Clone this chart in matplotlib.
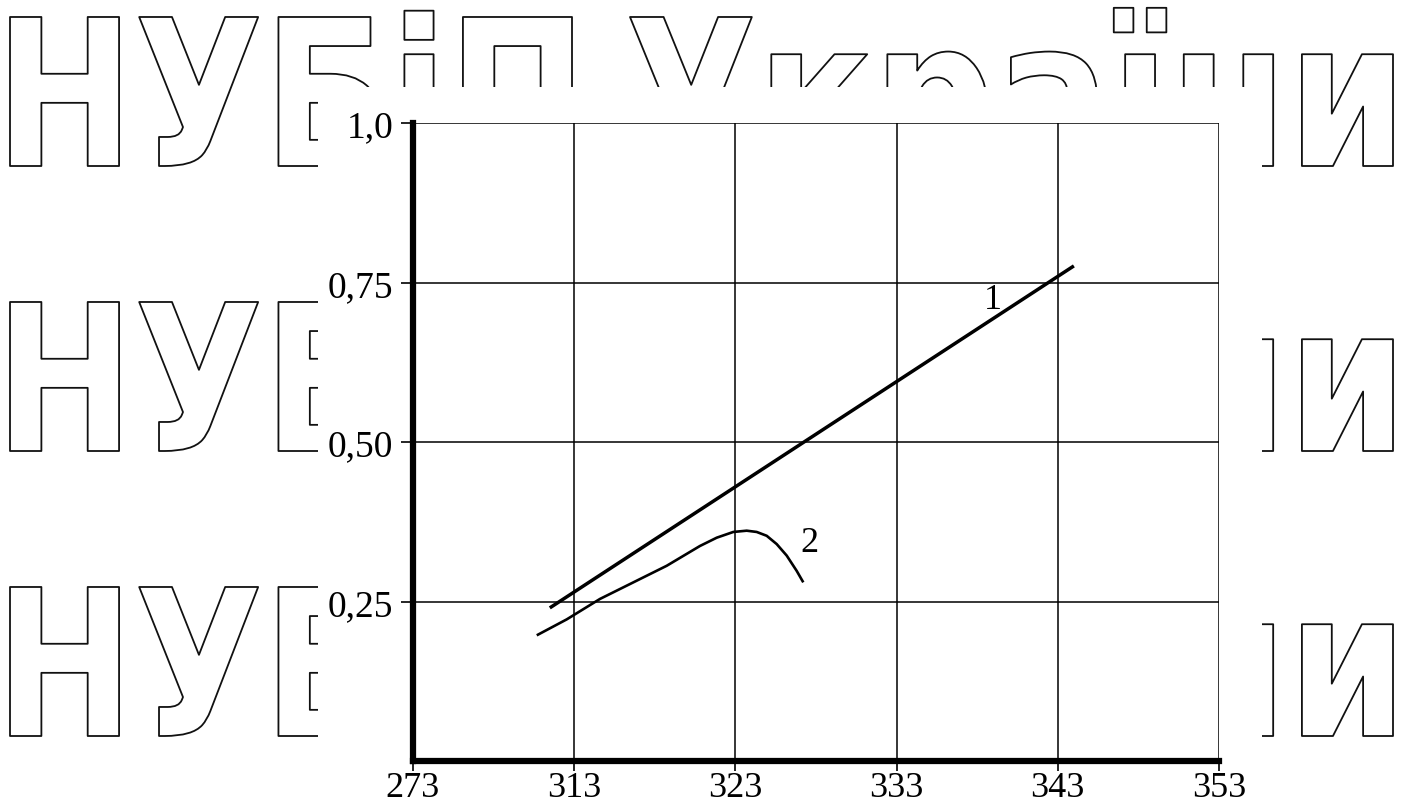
import matplotlib
matplotlib.use('Agg')
import matplotlib.pyplot as plt
from matplotlib.textpath import TextPath
from matplotlib.font_manager import FontProperties
from matplotlib.patches import PathPatch, Rectangle
from matplotlib.transforms import Affine2D

# дані графіка
x_ticks = [303, 313, 323, 333, 343, 353]
x_tick_labels = ['273', '313', '323', '333', '343', '353']
y_ticks = [0.25, 0.50, 0.75, 1.0]
y_tick_labels = ['0,25', '0,50', '0,75', '1,0']

line1_x = [311.5, 344.0]
line1_y = [0.240, 0.776]

curve2_x = [310.69, 312.55, 314.61, 316.68, 318.75, 320.81, 321.85, 322.88,
            323.71, 324.33, 324.95, 325.57, 326.19, 326.81, 327.22]
curve2_y = [0.197, 0.222, 0.254, 0.280, 0.306, 0.337, 0.350, 0.359,
            0.361, 0.359, 0.353, 0.340, 0.322, 0.298, 0.280]

labels_txt = ['1', '2']
labels_x = [339.0, 327.6]
labels_y = [0.724, 0.342]

# водяний знак
wm_words = ['НУБіП', 'України']
wm_spans = [(10, 572), (630, 1393)]
wm_baselines = [167, 452, 737]

W, H = 1403, 812
fig = plt.figure(figsize=(W / 100, H / 100), dpi=100)
fig.patch.set_facecolor('white')

# фон з водяним знаком (координати в пікселях)
bg = fig.add_axes([0, 0, 1, 1], zorder=0)
bg.set_xlim(0, W)
bg.set_ylim(H, 0)
bg.axis('off')

fp = FontProperties(family='DejaVu Sans', weight='bold')
cap_h = 149
for base in wm_baselines:
    for word, (x0, x1) in zip(wm_words, wm_spans):
        tp = TextPath((0, 0), word, size=100, prop=fp)
        ext = tp.get_extents()
        sx = (x1 - x0) / ext.width
        sy = cap_h / 72.9
        tr = Affine2D().translate(-ext.x0, 0).scale(sx, -sy).translate(x0, base)
        bg.add_patch(PathPatch(tr.transform_path(tp), facecolor='white',
                               edgecolor='#111111', lw=1.3, joinstyle='round'))

# біле поле рисунка поверх водяного знаку
bg.add_patch(Rectangle((318, 88), 1262 - 318, H - 88, facecolor='white',
                       edgecolor='none', zorder=5))

# основний графік
left, right, top, bottom = 412.75, 1219, 124, 762
ax = fig.add_axes([left / W, (H - bottom) / H, (right - left) / W, (bottom - top) / H],
                  zorder=2)
ax.set_facecolor('white')
ax.set_xlim(303, 353)
ax.set_ylim(0, 1.0)

ax.plot(line1_x, line1_y, color='black', lw=2.5, solid_capstyle='butt')
ax.plot(curve2_x, curve2_y, color='black', lw=1.9, solid_capstyle='butt')
for t, lx, ly in zip(labels_txt, labels_x, labels_y):
    ax.text(lx, ly, t, ha='center', va='center', fontsize=26,
            family='Liberation Serif')

ax.set_xticks(x_ticks)
ax.set_xticklabels(x_tick_labels, family='Liberation Serif')
ax.set_yticks(y_ticks)
ax.set_yticklabels(y_tick_labels, family='Liberation Serif')
ax.grid(True, color='black', lw=1.1)
ax.set_axisbelow(True)
ax.tick_params(direction='out', width=1.2, color='black')
ax.tick_params(axis='y', length=9, labelsize=27, pad=5)
ax.tick_params(axis='x', length=7, labelsize=26, pad=0)

ax.spines['top'].set_visible(False)
ax.spines['right'].set_visible(False)
ax.spines['left'].set_linewidth(4.5)
ax.spines['bottom'].set_linewidth(4.5)

fig.savefig('out.png', dpi=100)
